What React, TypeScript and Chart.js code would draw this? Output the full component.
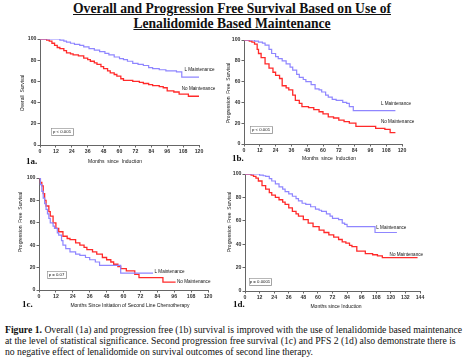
import React, { useEffect, useRef } from "react";
import { Chart, registerables } from "chart.js";
Chart.register(...registerables);

// ---------- DATA ----------
// 1a Overall survival (months since induction)
const a1LTime = [0, 15, 18, 20, 23, 26, 30, 33, 37, 41, 45, 49, 52, 56, 60, 63, 66, 70, 74, 78, 82, 85, 90, 95, 103, 107, 120];
const a1LSurv = [100, 99, 98, 97, 96, 95, 94, 92.5, 91, 89.5, 88, 86.5, 85, 83, 81.5, 80.5, 79, 77, 76, 75, 73, 72, 71, 70, 69, 64, 64];
const a1NTime = [0, 5, 7, 9, 11, 13, 15, 18, 20, 23, 25, 29, 33, 36, 38, 41, 43, 46, 48, 51, 53, 56, 58, 61, 63, 70, 75, 78, 82, 85, 90, 93, 96, 101, 105, 112, 120];
const a1NSurv = [100, 99, 98, 96, 94, 92, 91, 89, 87, 86, 85, 84, 82, 80.5, 79, 77.5, 76, 74, 72, 70, 68, 66.5, 65, 62.5, 61, 60, 59, 58, 57, 56, 55, 54, 51, 50, 48, 46, 46];

// 1b Progression free survival (months since induction)
const b1LTime = [0, 8, 11, 14, 16, 19, 21, 24, 26, 29, 32, 35, 37, 40, 42, 45, 47, 51, 54, 57, 59, 62, 64, 67, 70, 75, 78, 80, 83, 115];
const b1LSurv = [100, 99, 98, 97, 95, 91, 87, 84, 82, 80, 77, 74, 71, 67, 64, 62, 60, 57, 53, 52, 50, 47, 45, 43, 42, 40, 39, 36, 32, 32];
const b1NTime = [0, 4, 6, 8, 10, 11, 13, 16, 19, 22, 24, 27, 29, 32, 34, 37, 39, 42, 44, 49, 53, 57, 60, 64, 68, 72, 76, 80, 85, 95, 100, 107, 111, 115];
const b1NSurv = [100, 99, 98, 96, 91, 87, 83, 77, 73, 69, 66, 63, 56, 54, 52, 47, 42, 39, 36, 35, 33, 31, 29, 26, 25, 23, 21.5, 20, 17, 17, 15, 14, 11, 11];

// 1c Second progression free survival (months since second line chemotherapy)
const c1LTime = [0, 1, 2, 3, 4, 5, 6, 7, 8, 10, 11, 13, 14, 16, 17, 19, 22, 26, 29, 33, 36, 40, 43, 57, 58, 81];
const c1LSurv = [100, 94, 88, 82, 77, 72, 68, 64, 60, 57, 55, 51, 49, 44, 40, 37, 34, 32, 31, 29, 27, 25, 22, 22, 15, 15];
const c1NTime = [0, 1, 2, 3, 4, 5, 7, 8, 10, 12, 14, 17, 20, 22, 26, 29, 32, 34, 38, 41, 45, 48, 51, 53, 56, 58, 62, 68, 71, 88, 97];
const c1NSurv = [100, 96, 93, 86, 80, 75, 70, 66, 60, 55, 52, 48, 46, 45, 42, 40, 38, 36, 34, 32, 29, 27, 25, 23, 21, 19, 17, 14, 11, 7, 7];

// 1d PFS 2 (months since induction)
const d1LTime = [0, 12, 15, 17, 20, 22, 25, 28, 31, 33, 36, 39, 42, 44, 47, 50, 54, 58, 61, 63, 67, 70, 72, 77, 80, 82, 84, 107, 125];
const d1LSurv = [100, 99, 98.5, 98, 96, 94, 91.5, 89, 87, 85, 83, 81, 79, 77, 75, 74, 72, 70, 69, 68, 66, 64, 62, 61, 58, 57, 55, 50, 50];
const d1NTime = [0, 5, 7, 9, 11, 14, 17, 20, 22, 25, 28, 31, 33, 36, 39, 42, 44, 48, 52, 56, 61, 65, 69, 73, 77, 80, 83, 86, 88, 92, 99, 105, 109, 113, 142];
const d1NSurv = [100, 99, 98, 96.5, 94, 90, 87, 84, 82, 80, 78, 76, 74, 71, 68, 66, 64, 61, 58, 55, 52, 50, 48, 46, 44, 42, 41, 39, 38, 34, 32, 31, 30, 28.5, 28.5];

const BLUE = "#8f86ff";
const RED = "#ff2a2a";
const SANS = "'Liberation Sans', Arial, sans-serif";
const SERIF = "'Liberation Serif', 'Times New Roman', serif";

type Panel = {
  box: [number, number, number, number];
  plot: [number, number, number, number];
  xMax: number;
  L: [number[], number[]];
  N: [number[], number[]];
  lLabel: [number, number];
  nLabel: [number, number];
  p: string;
  pBox: [number, number, number, number];
  tag: string;
  tagPos: [number, number];
  xTitle: string;
  xTitlePos: [number, number];
  yTitle: string;
  yTitlePos: [number, number];
};

const panels: Panel[] = [
  {
    box: [0, 30, 222, 138], plot: [40, 39, 199, 145], xMax: 120,
    L: [a1LTime, a1LSurv], N: [a1NTime, a1NSurv],
    lLabel: [109, 71], nLabel: [107, 53],
    p: "p < 0.001", pBox: [51, 128, 22, 7],
    tag: "1a.", tagPos: [26, 162],
    xTitle: "Months  since  Induction", xTitlePos: [115, 162],
    yTitle: "Overall  Survival", yTitlePos: [23, 93],
  },
  {
    box: [222, 30, 242, 138], plot: [244, 40, 402, 144], xMax: 120,
    L: [b1LTime, b1LSurv], N: [b1NTime, b1NSurv],
    lLabel: [104, 38.5], nLabel: [104, 21],
    p: "p < 0.001", pBox: [250, 126, 22, 7],
    tag: "1b.", tagPos: [232, 159],
    xTitle: "Months  since  Induction", xTitlePos: [329, 159],
    yTitle: "Progression  Free  Survival", yTitlePos: [229, 93],
  },
  {
    box: [0, 168, 222, 146], plot: [39, 178, 208, 290], xMax: 120,
    L: [c1LTime, c1LSurv], N: [c1NTime, c1NSurv],
    lLabel: [82, 16], nLabel: [98, 7],
    p: "p = 0.07", pBox: [47, 271, 19, 7],
    tag: "1c.", tagPos: [22, 305],
    xTitle: "Months Since Initiation of Second Line Chemotherapy", xTitlePos: [130, 306],
    yTitle: "Progression  Free  Survival", yTitlePos: [21, 222],
  },
  {
    box: [222, 168, 242, 146], plot: [245, 174, 420, 291], xMax: 144,
    L: [d1LTime, d1LSurv], N: [d1NTime, d1NSurv],
    lLabel: [108, 54], nLabel: [119, 31],
    p: "p = 0.0001", pBox: [249, 278, 22, 7],
    tag: "1d.", tagPos: [233, 305],
    xTitle: "Months since Induction", xTitlePos: [336, 307],
    yTitle: "Progression  Free  Survival", yTitlePos: [230, 222],
  },
];

function makeChart(canvas: HTMLCanvasElement, p: Panel) {
  const [bl, bt, bw, bh] = p.box;
  const [pl, pt, pr, pb] = p.plot;
  const extras = {
    id: "extras",
    afterDraw(chart: any) {
      const ctx = chart.ctx as CanvasRenderingContext2D;
      const xs = chart.scales.x;
      const ys = chart.scales.y;
      ctx.save();
      ctx.fillStyle = "#111";
      ctx.font = `4.6px ${SANS}`;
      ctx.textAlign = "left";
      ctx.textBaseline = "middle";
      ctx.fillText("L Maintenance", xs.getPixelForValue(p.lLabel[0]), ys.getPixelForValue(p.lLabel[1]));
      ctx.fillText("No Maintenance", xs.getPixelForValue(p.nLabel[0]), ys.getPixelForValue(p.nLabel[1]));
      const [px, py, pw, ph] = p.pBox;
      ctx.fillStyle = "#cfcfcf";
      ctx.fillRect(px - bl + 1, py - bt + 1, pw, ph);
      ctx.fillStyle = "#fff";
      ctx.fillRect(px - bl, py - bt, pw, ph);
      ctx.strokeStyle = "#888";
      ctx.lineWidth = 0.6;
      ctx.strokeRect(px - bl + 0.3, py - bt + 0.3, pw, ph);
      ctx.fillStyle = "#111";
      ctx.font = `4.3px ${SANS}`;
      ctx.textAlign = "center";
      ctx.fillText(p.p, px - bl + pw / 2, py - bt + ph / 2 + 0.3);
      ctx.font = `bold 9px ${SERIF}`;
      ctx.textAlign = "left";
      ctx.fillText(p.tag, p.tagPos[0] - bl, p.tagPos[1] - bt);
      ctx.font = `5px ${SANS}`;
      ctx.textAlign = "center";
      ctx.fillText(p.xTitle, p.xTitlePos[0] - bl, p.xTitlePos[1] - bt);
      ctx.translate(p.yTitlePos[0] - bl, p.yTitlePos[1] - bt);
      ctx.rotate(-Math.PI / 2);
      ctx.fillText(p.yTitle, 0, 0);
      ctx.restore();
    },
  };
  const tickFont = { size: 5.2, family: SANS, weight: "bold" as const };
  return new Chart(canvas, {
    type: "line",
    data: {
      datasets: [
        {
          data: p.L[0].map((x, i) => ({ x, y: p.L[1][i] })),
          borderColor: BLUE, borderWidth: 1.2, pointRadius: 0, stepped: true, fill: false,
        },
        {
          data: p.N[0].map((x, i) => ({ x, y: p.N[1][i] })),
          borderColor: RED, borderWidth: 1.3, pointRadius: 0, stepped: true, fill: false,
        },
      ],
    },
    options: {
      responsive: false,
      animation: false,
      layout: { padding: { left: 0, top: pt - bt, right: bl + bw - pr, bottom: 0 } },
      plugins: { legend: { display: false }, tooltip: { enabled: false }, title: { display: false } },
      scales: {
        x: {
          type: "linear", min: 0, max: p.xMax,
          ticks: { stepSize: 12, font: tickFont, color: "#333", padding: 1, maxRotation: 0, autoSkip: false },
          grid: { drawOnChartArea: false, tickLength: 2.5, color: "#666" },
          border: { color: "#666", width: 1 },
          afterFit: (s: any) => { s.height = bt + bh - pb; },
        },
        y: {
          type: "linear", min: 0, max: 100,
          ticks: { stepSize: 20, font: tickFont, color: "#333", padding: 1 },
          grid: { drawOnChartArea: false, tickLength: 2.5, color: "#666" },
          border: { color: "#666", width: 1 },
          afterFit: (s: any) => { s.width = pl - bl; },
        },
      },
    },
    plugins: [extras],
  } as any);
}

export default function App() {
  const refs = [useRef<HTMLCanvasElement>(null), useRef<HTMLCanvasElement>(null), useRef<HTMLCanvasElement>(null), useRef<HTMLCanvasElement>(null)];
  useEffect(() => {
    const charts = panels.map((p, i) => makeChart(refs[i].current!, p));
    return () => charts.forEach((c) => c.destroy());
  }, []);
  return (
    <div style={{ position: "fixed", left: 0, top: 0, width: 464, height: 363, background: "#fff", overflow: "hidden" }}>
      <div style={{ position: "absolute", left: 0, top: 1, width: 464, textAlign: "center", fontFamily: SERIF, fontWeight: "bold", fontSize: 13.6, lineHeight: "15px", textDecoration: "underline", color: "#111" }}>
        Overall and Progression Free Survival Based on Use of<br />Lenalidomide Based Maintenance
      </div>
      {panels.map((p, i) => (
        <canvas key={i} ref={refs[i]} width={p.box[2]} height={p.box[3]}
          style={{ position: "absolute", left: p.box[0], top: p.box[1], width: p.box[2], height: p.box[3] }} />
      ))}
      <div style={{ position: "absolute", left: 5, top: 324, width: 459, fontFamily: SERIF, fontSize: 9.7, lineHeight: "11px", color: "#111", whiteSpace: "nowrap" }}>
        <b>Figure 1.</b> Overall (1a) and progression free (1b) survival is improved with the use of lenalidomide based maintenance<br />at the level of statistical significance. Second progression free survival (1c) and PFS 2 (1d) also demonstrate there is<br />no negative effect of lenalidomide on survival outcomes of second line therapy.
      </div>
    </div>
  );
}
